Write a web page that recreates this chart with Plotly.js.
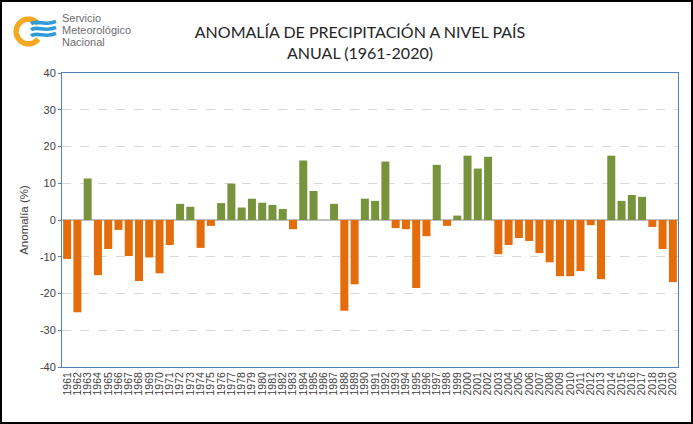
<!DOCTYPE html>
<html>
<head>
<meta charset="utf-8">
<script src="https://cdn.plot.ly/plotly-3.0.1.min.js"></script>
<style>
  html, body { margin: 0; padding: 0; background: #fff; }
  #wrap { position: relative; width: 693px; height: 424px; }
  #chart { width: 693px; height: 424px; }
  #frame { position: absolute; left: 0; top: 0; width: 693px; height: 424px;
           box-sizing: border-box; border: 2px solid #000; pointer-events: none; }
</style>
</head>
<body>
<div id="wrap"><div id="chart"></div><div id="frame"></div></div>
<script>
// ---- Data ----
const years = ["1961","1962","1963","1964","1965","1966","1967","1968","1969","1970",
  "1971","1972","1973","1974","1975","1976","1977","1978","1979","1980",
  "1981","1982","1983","1984","1985","1986","1987","1988","1989","1990",
  "1991","1992","1993","1994","1995","1996","1997","1998","1999","2000",
  "2001","2002","2003","2004","2005","2006","2007","2008","2009","2010",
  "2011","2012","2013","2014","2015","2016","2017","2018","2019","2020"];
const anomaly = [-10.6,-25.1,11.3,-15.0,-7.9,-2.7,-9.8,-16.6,-10.2,-14.5,
  -6.8,4.4,3.6,-7.6,-1.6,4.6,9.9,3.4,5.8,4.7,
  4.1,3.0,-2.5,16.2,7.9,0,4.4,-24.7,-17.5,5.8,
  5.2,15.9,-2.2,-2.5,-18.5,-4.4,15.0,-1.6,1.2,17.5,
  14.0,17.2,-9.3,-6.8,-4.9,-5.7,-9.0,-11.5,-15.3,-15.3,
  -13.9,-1.4,-16.1,17.5,5.2,6.8,6.3,-1.9,-7.9,-16.9];
const yTicks = [-40,-30,-20,-10,0,10,20,30,40];
const yTickText = ["-40","-30","-20","-10","0","10","20","30","40"];
const titleLines = ["ANOMALÍA DE PRECIPITACIÓN A NIVEL PAÍS", "ANUAL (1961-2020)"];
const logoLines = ["Servicio", "Meteorológico", "Nacional"];

const POS = "#77933C", NEG = "#E46C0A";
const colors = anomaly.map(v => v >= 0 ? POS : NEG);

// ---- Layout helpers (pixel -> paper) ----
const W = 693, H = 424, L = 62, R = 15, T = 73, B = 57;
const pw = W - L - R, ph = H - T - B;
const px = x => (x - L) / pw;
const py = y => (H - B - y) / ph;

function ringPath(cx, cy, r, a0, a1) {
  let d = "";
  for (let a = a0; a <= a1 + 0.001; a += 4) {
    const t = a * Math.PI / 180;
    const X = px(cx + r * Math.cos(t)), Y = py(cy - r * Math.sin(t));
    d += (d ? " L" : "M") + X.toFixed(5) + "," + Y.toFixed(5);
  }
  return d;
}
function wavePath(y) {
  const p = (x, yy) => px(x).toFixed(5) + "," + py(yy).toFixed(5);
  return "M" + p(31, y + 1.2) + " C" + p(37, y - 3) + " " + p(45, y + 4) + " " + p(56, y - 1.2);
}

const shapes = [
  { type: "path", xref: "paper", yref: "paper", path: ringPath(28.5, 31.5, 12.3, 38, 322),
    line: { color: "#F6A820", width: 5.5 } }
];
[22.5, 28.5, 34.5].forEach(y => shapes.push({
  type: "path", xref: "paper", yref: "paper", path: wavePath(y),
  line: { color: "#2F9BD8", width: 3.6 } }));

const annotations = logoLines.map((t, i) => ({
  text: t, xref: "paper", yref: "paper", x: px(60), y: py(18 + i * 12),
  xanchor: "left", yanchor: "middle", showarrow: false,
  font: { family: "Liberation Sans, Arial, sans-serif", size: 11, color: "#6D6E71" }
}));

const trace = {
  type: "bar", x: years, y: anomaly,
  marker: { color: colors, line: { width: 0 } },
  hoverinfo: "x+y"
};

const layout = {
  width: W, height: H,
  margin: { l: L, r: R, t: T, b: B, pad: 0 },
  paper_bgcolor: "#fff", plot_bgcolor: "#fff",
  bargap: 0.22,
  showlegend: false,
  title: {
    text: titleLines.join("<br>"),
    xref: "container", yref: "container",
    x: 360 / W, xanchor: "center",
    y: 1 - 38 / H, yanchor: "top",
    font: { family: "Lato, Open Sans, sans-serif", size: 16, color: "#262626" }
  },
  xaxis: {
    type: "category", tickangle: -90, automargin: false,
    tickmode: "array", tickvals: years, ticktext: years,
    tickfont: { family: "Liberation Sans, Arial, sans-serif", size: 10.5, color: "#404040" },
    showline: true, linecolor: "#4F81BD", linewidth: 1, mirror: true,
    ticks: "", showgrid: false
  },
  yaxis: {
    range: [-40, 40], tickmode: "array", tickvals: yTicks, ticktext: yTickText, automargin: false,
    tickfont: { family: "Liberation Sans, Arial, sans-serif", size: 11, color: "#404040" },
    showline: true, linecolor: "#4F81BD", linewidth: 1, mirror: true,
    ticks: "outside", ticklen: 3, tickcolor: "#4F81BD",
    showgrid: true, gridcolor: "#D9D9D9", griddash: "dash", gridwidth: 1,
    zeroline: true, zerolinecolor: "#C0C0C0", zerolinewidth: 1.5,
    title: { text: "Anomalía (%)", standoff: 8,
      font: { family: "Liberation Sans, Arial, sans-serif", size: 11.5, color: "#404040" } }
  },
  shapes: shapes,
  annotations: annotations
};

Plotly.newPlot("chart", [trace], layout, { displayModeBar: false, staticPlot: true });
</script>
</body>
</html>
